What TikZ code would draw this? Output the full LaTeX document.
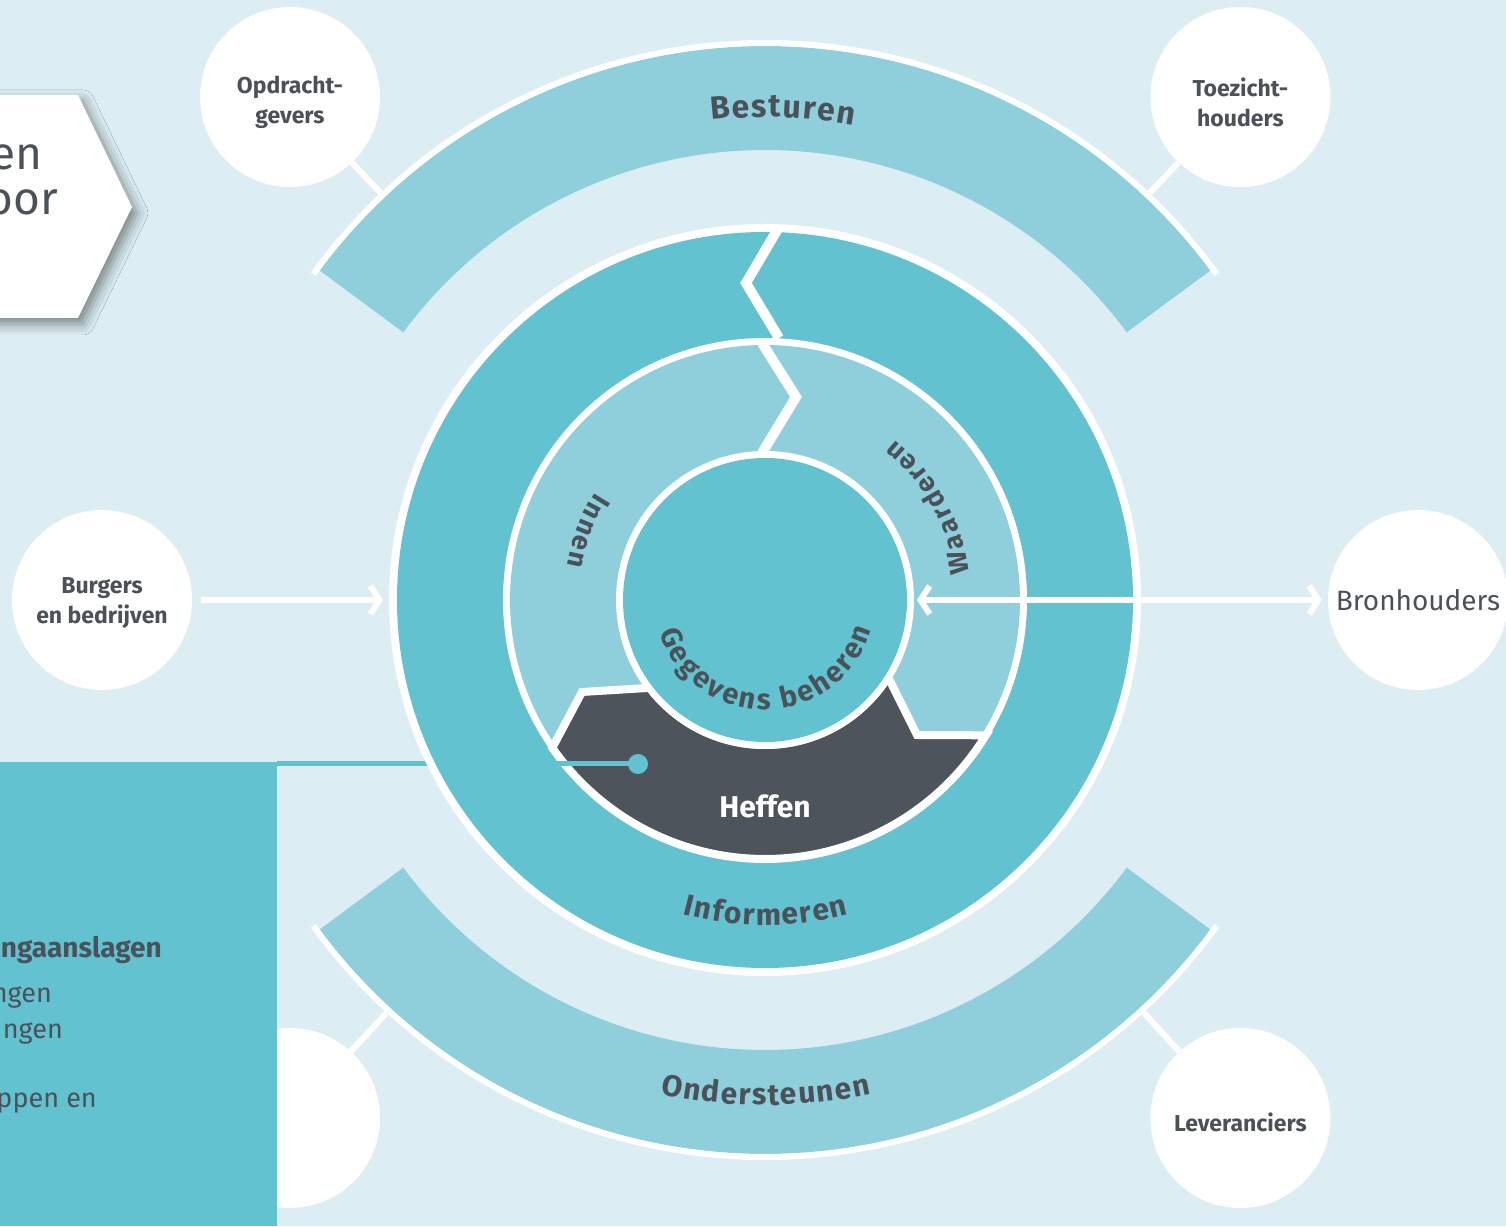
\documentclass[tikz,border=0pt]{standalone}
\usepackage{fontspec}
\setmainfont{Fira Sans}
\usetikzlibrary{calc, positioning, arrows.meta, decorations.text, shadows.blur}

\definecolor{backdrop}{HTML}{DCEEF4}
\definecolor{pale}{HTML}{8FCFDB}
\definecolor{ringteal}{HTML}{62C2D0}
\definecolor{slate}{HTML}{4D545C}
\definecolor{ink}{HTML}{4A5159}

\newcommand\topfmt{\bfseries\fontsize{32}{32}\selectfont\kern1.5pt}
\newcommand\bandfmt{\bfseries\fontsize{30}{30}\selectfont\kern1.5pt}
\newcommand\ringfmt{\bfseries\fontsize{27}{27}\selectfont\kern2.5pt}
\newcommand\corefmt{\bfseries\fontsize{29}{29}\selectfont\kern2.5pt}

\tikzset{
x=1pt, y=1pt, % one unit is one pixel of the sketch
party/.style={circle, fill=white, minimum size=180pt, inner sep=0pt}, % the round actors
partytext/.style={align=center, text=ink, font=\bfseries\fontsize{23}{30}\selectfont}, % their names
tie/.style={draw=white, line width=6pt}, % links from the actors to the bands
arw/.style={draw=white, line width=6pt, >={Straight Barb[length=9pt, width=28pt]}}, % white flow arrows
gap/.style={draw=white, line width=10pt}, % cuts between ring parts
pinline/.style={draw=ringteal, line width=5pt}, % line from the panel to Heffen
note/.style={anchor=base east, inner sep=0pt, text=ink}, % cut off texts at the left edge
arctext/.style={decorate, decoration={text along path, text align=center, text color=ink, text={#1}}},
}

\begin{document}
\begin{tikzpicture}
\useasboundingbox (0,0) rectangle (1506,1226);
\fill[backdrop] (0,0) rectangle (1506,1226);
\coordinate (C) at (765,626);

% box at the top left
\fill[white, blur shadow={shadow xshift=5pt, shadow yshift=-6pt, shadow blur radius=11pt, shadow opacity=45}]
  (-30,1131) -- (78,1131) -- (132,1019) -- (78,908) -- (-30,908) -- cycle;
\node[note, font=\fontsize{46}{46}\selectfont] (hint1) at (43,1056) {en};
\node[note, font=\fontsize{46}{46}\selectfont] (hint2) at (58,1011) {oor};

% outer bands
\fill[pale] ($(C)+(36.5:450)$) arc[start angle=36.5, end angle=143.5, radius=450pt]
  -- ($(C)+(143.5:554)$) arc[start angle=143.5, end angle=36.5, radius=554pt] -- cycle;
\draw[white, line width=6pt] ($(C)+(35.8:557)$) arc[start angle=35.8, end angle=144.2, radius=557pt];
\fill[pale] ($(C)+(216.5:450)$) arc[start angle=216.5, end angle=323.5, radius=450pt]
  -- ($(C)+(323.5:554)$) arc[start angle=323.5, end angle=216.5, radius=554pt] -- cycle;
\draw[white, line width=6pt] ($(C)+(215.8:557)$) arc[start angle=215.8, end angle=324.2, radius=557pt];

% actors
\node[party] (opd) at (290,1129) {};
\node[party, right=770pt of opd] (toez) {};
\node[party] (burg) at (102,626) {};
\node[party] (bron) at (1418,626) {};
\node[party] (blank) at (290,108) {};
\node[party, right=770pt of blank] (lev) {};
\node[partytext] (opd-txt) at ([yshift=-5pt]opd.center) {Opdracht-\\gevers};
\node[partytext] (toez-txt) at ([yshift=-5pt]toez.center) {Toezicht-\\houders};
\node[partytext] (burg-txt) at ([yshift=-3pt]burg.center) {Burgers\\en bedrijven};
\node[partytext, font=\fontsize{28}{28}\selectfont] (bron-txt) at (bron.center) {Bronhouders};
\node[partytext] (lev-txt) at ([yshift=-4pt]lev.center) {Leveranciers};

\coordinate (opd-tie) at ($(C)!558pt!(opd)$);
\coordinate (toez-tie) at ($(C)!558pt!(toez)$);
\coordinate (blank-tie) at ($(C)!558pt!(blank)$);
\coordinate (lev-tie) at ($(C)!558pt!(lev)$);
\draw[tie] (opd) -- (opd-tie);
\draw[tie] (toez) -- (toez-tie);
\draw[tie] (blank) -- (blank-tie);
\draw[tie] (lev) -- (lev-tie);

% panel at the bottom left
\node[fill=ringteal, minimum width=277pt, minimum height=464pt, inner sep=0pt, anchor=south west] (panel) at (0,0) {};
\node[note, font=\bfseries\fontsize{28}{28}\selectfont] (p1) at (162,268) {ngaanslagen};
\node[note, font=\fontsize{27}{27}\selectfont] (p2) at (52,223) {ngen};
\node[note, font=\fontsize{27}{27}\selectfont] (p3) at (63,188) {ngen};
\node[note, font=\fontsize{27}{27}\selectfont] (p4) at (97,119) {oppen en};
\coordinate (pin) at (638,462);
\draw[pinline] (panel.east |- pin) -- (pin);

% rings
\fill[white] (C) circle[radius=376pt];
\fill[ringteal] (C) circle[radius=368pt];
\draw[gap] (779,999) -- (746,943) -- (779,888);
\fill[white] (C) circle[radius=262pt];
\fill[pale] (C) circle[radius=255pt];
\draw[gap] (762,883) -- (796,829) -- (762,773);
\filldraw[fill=slate, draw=white, line width=8pt] ($(C)+(217.3:145)$) arc[start angle=217.3, end angle=328, radius=145pt]
  -- (917,491) -- ($(C)+(328.5:259)$) arc[start angle=328.5, end angle=214.8, radius=259pt] -- (582,534) -- cycle;
\fill[white] (C) circle[radius=149pt];
\fill[ringteal] (C) circle[radius=142pt];

\coordinate (heffen-w) at (553,462);
\draw[pinline] (heffen-w) -- (pin);
\fill[ringteal] (pin) circle[radius=10pt];

% labels along the rings
\path[arctext={|\topfmt|Besturen}] ($(C)+(113:483)$) arc[start angle=113, end angle=63, radius=483pt];
\path[arctext={|\bandfmt|Informeren}] ($(C)+(240:325)$) arc[start angle=240, end angle=300, radius=325pt];
\path[arctext={|\bandfmt|Ondersteunen}] ($(C)+(245:505)$) arc[start angle=245, end angle=295, radius=505pt];
\path[arctext={|\ringfmt|Innen}] ($(C)+(133:201)$) arc[start angle=133, end angle=184, radius=201pt];
\path[arctext={|\ringfmt|Waarderen}] ($(C)+(-2:206)$) arc[start angle=-2, end angle=60, radius=206pt];
\path[arctext={|\corefmt|Gegevens beheren}] ($(C)+(185:110)$) arc[start angle=185, end angle=355, radius=110pt];
\node[text=white, font=\bfseries\fontsize{30}{30}\selectfont] (heffen) at (765,420) {Heffen};

% flows
\coordinate (ring-w) at (383,626);
\coordinate (core-e) at (917,626);
\draw[arw, ->, shorten <=9pt] (burg) -- (ring-w);
\draw[arw, <->, shorten >=6pt] (core-e) -- (bron);
\end{tikzpicture}
\end{document}
